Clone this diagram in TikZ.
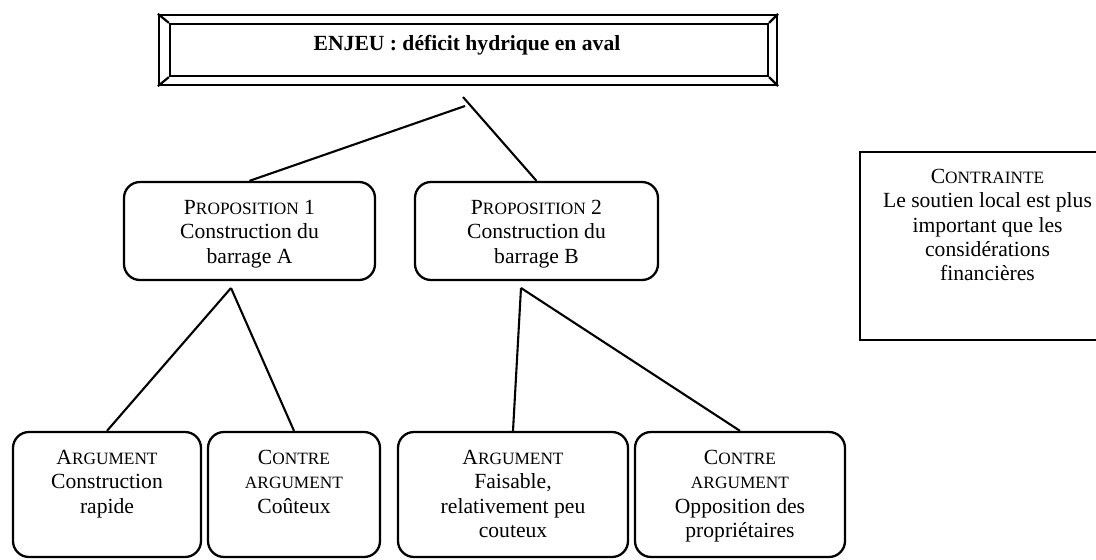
\documentclass[tikz,border=0pt]{standalone}
\usepackage{fontspec}
\setmainfont{Liberation Serif}
\usetikzlibrary{calc}
\newcommand{\sk}[1]{{\fontsize{17.3}{24.4}\selectfont #1}}
\newcommand{\bt}[2]{\parbox[t]{#1}{\centering\fontsize{21.6}{24.4}\selectfont #2}}
\begin{document}
\begin{tikzpicture}[x=1pt,y=-1pt,
  box/.style={draw, line width=2.3pt, rounded corners=16pt, inner sep=0pt},
  sqbox/.style={draw, line width=2.3pt, inner sep=0pt},
  bevel/.style={line width=2.2pt},
  link/.style={line width=2.1pt},
  txt/.style={anchor=base, inner sep=0pt}]
\useasboundingbox (0,0) rectangle (1096,560);

% title box
\node[sqbox, line width=2.2pt, minimum width=618pt, minimum height=70pt] (enjeu) at (468,50) {};
\node[sqbox, line width=2.2pt, minimum width=598pt, minimum height=52pt] (enjeuin) at (469,50) {};
\draw[bevel] (enjeu.north west) -- (enjeuin.north west);
\draw[bevel] (enjeu.north east) -- (enjeuin.north east);
\draw[bevel] (enjeu.south west) -- (enjeuin.south west);
\draw[bevel] (enjeu.south east) -- (enjeuin.south east);
\node[txt] (title) at (467,50.7) {\fontsize{21.6}{24}\selectfont\bfseries ENJEU : déficit hydrique en aval};

% propositions
\node[box, minimum width=251pt, minimum height=98pt] (p1) at (249.5,231) {};
\node[txt] (p1t) at ($(p1.north)+(0,33.7)$) {\bt{245pt}{P\sk{ROPOSITION} 1\\Construction du\\barrage A}};
\node[box, minimum width=243pt, minimum height=98pt] (p2) at (536.5,231) {};
\node[txt] (p2t) at ($(p2.north)+(0,33.7)$) {\bt{240pt}{P\sk{ROPOSITION} 2\\Construction du\\barrage B}};

% arguments
\node[box, minimum width=188pt, minimum height=125pt] (b1) at (107,494.5) {};
\node[txt] (b1t) at ($(b1.north)+(0,33.7)$) {\bt{185pt}{A\sk{RGUMENT}\\Construction\\rapide}};
\node[box, minimum width=172pt, minimum height=125pt] (b2) at (294,494.5) {};
\node[txt] (b2t) at ($(b2.north)+(0,33.7)$) {\bt{170pt}{C\sk{ONTRE}\\\sk{ARGUMENT}\\Coûteux}};
\node[box, minimum width=230pt, minimum height=125pt] (b3) at (513,494.5) {};
\node[txt] (b3t) at ($(b3.north)+(0,33.7)$) {\bt{225pt}{A\sk{RGUMENT}\\Faisable,\\relativement peu\\couteux}};
\node[box, minimum width=210pt, minimum height=125pt] (b4) at (740,494.5) {};
\node[txt] (b4t) at ($(b4.north)+(0,33.7)$) {\bt{205pt}{C\sk{ONTRE}\\\sk{ARGUMENT}\\Opposition des\\propriétaires}};

% constraint
\node[sqbox, line width=2.5pt, minimum width=255pt, minimum height=188pt] (c) at (987.5,246) {};
\node[txt] (ct) at (987.5,183.3) {\bt{250pt}{C\sk{ONTRAINTE}\\Le soutien local est plus\\important que les\\considérations\\financières}};

% connectors
\coordinate (j1) at (465,106);
\coordinate (j2) at (463,97);
\coordinate (a1) at (231,288);
\coordinate (a2) at (521,288);
\draw[link] (j1) -- (p1.north);
\draw[link] (j2) -- (p2.north);
\draw[link] (a1) -- (b1.north);
\draw[link] (a1) -- (b2.north);
\draw[link] (a2) -- (b3.north);
\draw[link] (a2) -- (b4.north);
\end{tikzpicture}
\end{document}
